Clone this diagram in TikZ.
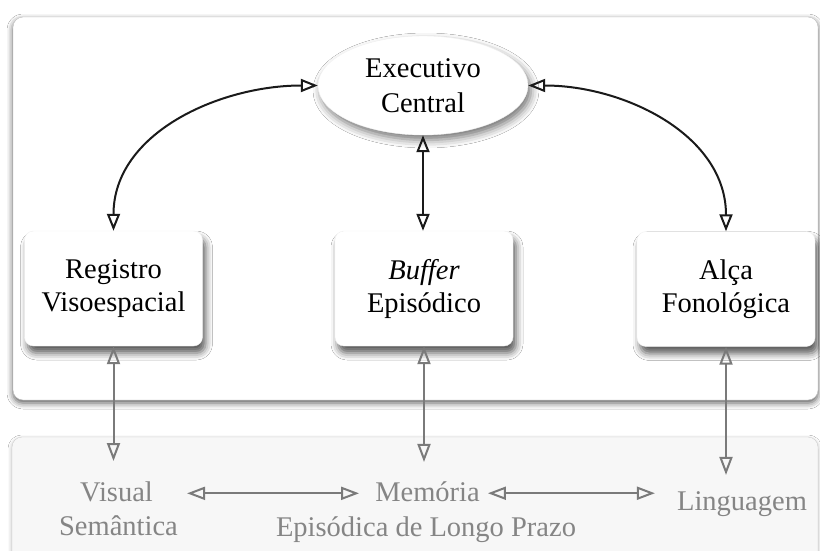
\documentclass[tikz,border=0pt]{standalone}
\usepackage{fontspec}
\setmainfont{Liberation Serif}
\usetikzlibrary{arrows.meta,shadows.blur,shapes.geometric}
\definecolor{gline}{HTML}{7A7A7A}
\definecolor{gtext}{HTML}{858585}
\definecolor{panelfill}{HTML}{F7F7F7}
\definecolor{panelborder}{HTML}{CFCFCF}
\definecolor{darkline}{HTML}{1A1A1A}
\tikzset{
  stagebox/.style={font=\fontsize{28.5}{33}\selectfont, align=center, fill=white, draw=black!5,
    rounded corners=9pt, minimum width=178pt, minimum height=115pt, inner sep=0pt,
    blur shadow={shadow xshift=3pt, shadow yshift=-7pt, shadow blur radius=7pt, shadow opacity=65}},
  centralnode/.style={ellipse, font=\fontsize{28.5}{35}\selectfont, align=center, fill=white, draw=black!5,
    minimum width=210pt, minimum height=99pt, inner sep=0pt,
    blur shadow={shadow xshift=3pt, shadow yshift=-5pt, shadow blur radius=8pt, shadow opacity=55}},
  ltmtext/.style={font=\fontsize{28.5}{33}\selectfont, text=gtext, inner sep=4pt, anchor=base},
  blackarrow/.style={draw=darkline, line width=2pt,
    arrows={Triangle[open,length=17pt,width=13pt]-Triangle[open,length=17pt,width=13pt]}},
  grayarrow/.style={draw=gline, line width=2pt,
    arrows={Triangle[open,length=18pt,width=13pt]-Triangle[open,length=18pt,width=13pt]}},
  toppanel/.style={fill=white, draw=black!25, rounded corners=10pt,
    blur shadow={shadow xshift=0pt, shadow yshift=-3pt, shadow blur radius=6pt, shadow opacity=65}},
  bottompanel/.style={fill=panelfill, draw=panelborder, rounded corners=10pt,
    blur shadow={shadow xshift=0pt, shadow yshift=-2pt, shadow blur radius=4pt, shadow opacity=30}},
}
\begin{document}
\begin{tikzpicture}[x=1pt, y=-1pt]
\useasboundingbox (0,0) rectangle (820,551);
\fill[white] (0,0) rectangle (820,551);
% panels
\path[toppanel] (13,17) rectangle (818,400);
\path[bottompanel] (12,437) rectangle (818,575);
% main nodes
\node[centralnode] (E) at (423,85.5) {Executivo\\Central};
\node[stagebox] (L) at (113.5,288.5) {Registro\\Visoespacial};
\node[stagebox] (M) at (424,288.5) {\textit{Buffer}\\Episódico};
\node[stagebox] (R) at (726,289) {Alça\\Fonológica};
% long-term memory labels
\node[ltmtext] (vis) at (116.5,501) {Visual};
\node[ltmtext] (sem) at (118.5,535) {Semântica};
\node[ltmtext] (mem) at (427.5,501) {Memória};
\node[ltmtext] (epi) at (426,536) {Episódica de Longo Prazo};
\node[ltmtext] (lin) at (742,510) {Linguagem};
% black connectors
\draw[blackarrow] (L.north) to[out=90,in=180] (E.west);
\draw[blackarrow] (R.north) to[out=90,in=0] (E.east);
\draw[blackarrow] (E.south) -- (E.south |- M.north);
% gray connectors
\draw[grayarrow, shorten >=16pt] (L.south) -- (L.south |- vis.north);
\draw[grayarrow, shorten >=15pt] (M.south) -- (M.south |- mem.north);
\draw[grayarrow, shorten >=12pt] (R.south) -- (R.south |- lin.north);
\draw[grayarrow, shorten <=30pt, shorten >=12pt] ([yshift=-2pt]vis.east) -- ([yshift=-2pt]vis.east -| mem.west);
\draw[grayarrow, shorten <=4pt, shorten >=18pt] ([yshift=-2pt]mem.east) -- ([yshift=-2pt]mem.east -| lin.west);
\end{tikzpicture}
\end{document}
